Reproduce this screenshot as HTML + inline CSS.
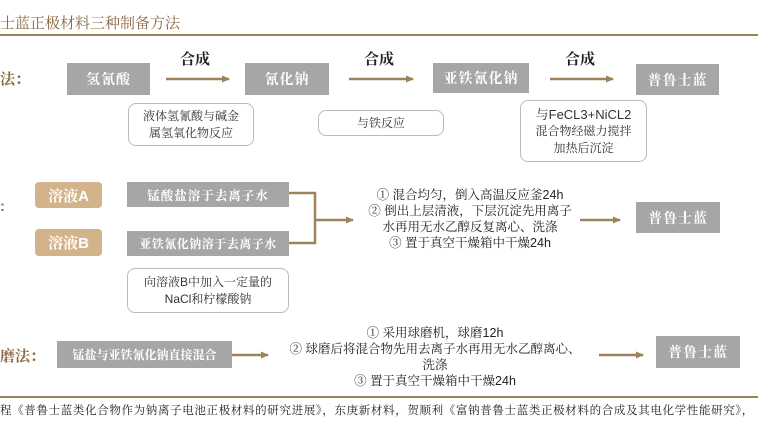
<!DOCTYPE html>
<html><head><meta charset="utf-8"><style>
body{margin:0;width:758px;height:425px;background:#fff;position:relative;overflow:hidden;font-family:"Liberation Sans","Noto Serif CJK SC",serif;}
.a{position:absolute;}
.g{position:absolute;background:#a6a6a6;color:#fff;font-family:"Liberation Sans","Noto Serif CJK SC",serif;font-weight:bold;display:flex;align-items:center;justify-content:center;font-size:14px;letter-spacing:1px;}
.t{position:absolute;background:#d2b38b;color:#fff;border-radius:4px;display:flex;align-items:center;justify-content:center;font-size:15px;font-weight:bold;}
.n{position:absolute;border:1px solid #bbb;border-radius:8px;background:#fff;display:flex;flex-direction:column;align-items:center;justify-content:center;font-size:12px;color:#333;line-height:17px;text-align:center;}
.lbl{position:absolute;color:#8b6a45;font-size:15px;font-weight:bold;}
.c{position:absolute;text-align:center;font-size:12.5px;color:#222;line-height:16px;white-space:nowrap;}
.h{position:absolute;font-size:15px;font-weight:bold;color:#222;}
</style></head><body>
<div class="a" style="left:0;top:12px;font-size:15px;color:#8b6a45;">士蓝正极材料三种制备方法</div>
<div class="a" style="left:0;top:34px;width:758px;height:1.5px;background:#a0825a;"></div>

<svg class="a" style="left:0;top:0" width="758" height="425">
<defs><marker id="m" markerWidth="8" markerHeight="8" refX="7" refY="4" orient="auto" markerUnits="userSpaceOnUse"><path d="M0,0.5 L8,4 L0,7.5Z" fill="#a0825a"/></marker></defs>
<g stroke="#a0825a" stroke-width="2.5" fill="none">
<line x1="166" y1="79" x2="229" y2="79" marker-end="url(#m)"/>
<line x1="349" y1="79" x2="413" y2="79" marker-end="url(#m)"/>
<line x1="550" y1="79" x2="613" y2="79" marker-end="url(#m)"/>
<polyline points="289,193 315,193 315,243 289,243"/>
<line x1="315" y1="220" x2="353" y2="220" marker-end="url(#m)"/>
<line x1="580" y1="220" x2="620" y2="220" marker-end="url(#m)"/>
<line x1="232" y1="355" x2="268" y2="355" marker-end="url(#m)"/>
<line x1="599" y1="355" x2="643" y2="355" marker-end="url(#m)"/>
</g></svg>

<div class="lbl" style="left:0;top:68px;">法：</div>
<div class="h" style="left:180px;top:48px;">合成</div>
<div class="h" style="left:364px;top:48px;">合成</div>
<div class="h" style="left:565px;top:48px;">合成</div>
<div class="g" style="left:67px;top:63px;width:83px;height:32px;">氢氰酸</div>
<div class="g" style="left:245px;top:63px;width:84px;height:32px;">氰化钠</div>
<div class="g" style="left:433px;top:63px;width:96px;height:30px;">亚铁氰化钠</div>
<div class="g" style="left:636px;top:64px;width:83px;height:31px;">普鲁士蓝</div>
<div class="n" style="left:128px;top:103px;width:124px;height:41px;"><div>液体氢氰酸与碱金</div><div>属氢氧化物反应</div></div>
<div class="n" style="left:318px;top:110px;width:124px;height:24px;"><div>与铁反应</div></div>
<div class="n" style="left:520px;top:100px;width:125px;height:60px;"><div style="font-size:13px">与FeCL3+NiCL2</div><div>混合物经磁力搅拌</div><div>加热后沉淀</div></div>

<div class="lbl" style="left:0;top:198px;">:</div>
<div class="t" style="left:35px;top:182px;width:67px;height:26px;">溶液A</div>
<div class="t" style="left:35px;top:229px;width:67px;height:27px;">溶液B</div>
<div class="g" style="left:127px;top:182px;width:162px;height:25px;font-size:12.5px;">锰酸盐溶于去离子水</div>
<div class="g" style="left:127px;top:231px;width:162px;height:25px;font-size:12px;letter-spacing:0.5px;">亚铁氰化钠溶于去离子水</div>
<div class="n" style="left:127px;top:268px;width:160px;height:43px;"><div>向溶液B中加入一定量的</div><div>NaCl和柠檬酸钠</div></div>
<div class="c" style="left:360px;top:187px;width:220px;"><div>① 混合均匀，倒入高温反应釜24h</div><div>② 倒出上层清液，下层沉淀先用离子</div><div>水再用无水乙醇反复离心、洗涤</div><div>③ 置于真空干燥箱中干燥24h</div></div>
<div class="g" style="left:636px;top:202px;width:84px;height:31px;">普鲁士蓝</div>

<div class="lbl" style="left:0;top:345px;">磨法：</div>
<div class="g" style="left:57px;top:341px;width:175px;height:27px;font-size:12px;letter-spacing:0;">锰盐与亚铁氰化钠直接混合</div>
<div class="c" style="left:280px;top:325px;width:310px;"><div>① 采用球磨机，球磨12h</div><div>② 球磨后将混合物先用去离子水再用无水乙醇离心、</div><div>洗涤</div><div>③ 置于真空干燥箱中干燥24h</div></div>
<div class="g" style="left:656px;top:336px;width:84px;height:32px;">普鲁士蓝</div>

<div class="a" style="left:0;top:396px;width:758px;height:1.5px;background:#a0825a;"></div>
<div class="a" style="left:0;top:402px;font-size:11.5px;color:#222;white-space:nowrap;letter-spacing:0.65px;">程《普鲁士蓝类化合物作为钠离子电池正极材料的研究进展》，东庚新材料，贺顺利《富钠普鲁士蓝类正极材料的合成及其电化学性能研究》，</div>
</body></html>
